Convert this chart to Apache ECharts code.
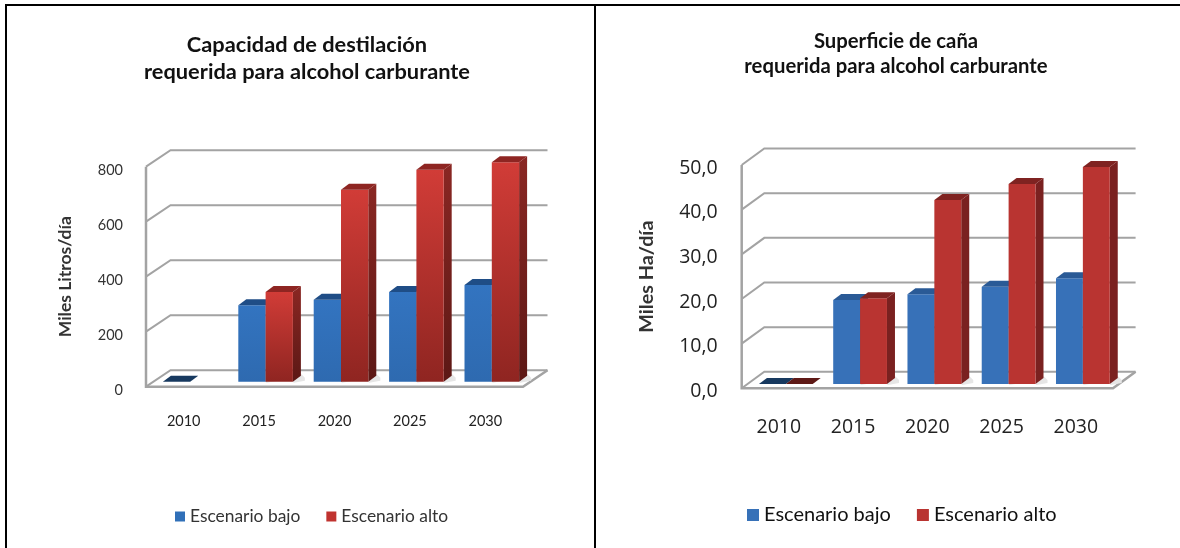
<!DOCTYPE html>
<html><head><meta charset="utf-8">
<style>html,body{margin:0;padding:0;background:#fff}#c{width:1180px;height:548px}</style>
<script src="https://cdn.jsdelivr.net/npm/echarts@6/dist/echarts.min.js"></script>
</head><body><div id="c"></div>
<script>
const years = ['2010','2015','2020','2025','2030'];
const litrosBajo = [0, 278, 298, 326, 352];
const litrosAlto = [null, 326, 698, 771, 798];
const hectareasBajo = [0, 18.8, 20.1, 21.8, 23.7];
const hectareasAlto = [0, 19.2, 41.2, 44.8, 48.6];
const litrosTicks = [0, 200, 400, 600, 800];
const hectareasTicks = [0, 10, 20, 30, 40, 50];
const BAJO = 'Escenario bajo', ALTO = 'Escenario alto';

const grad = (a, b) => new echarts.graphic.LinearGradient(0, 0, 0, 1, [{offset:0,color:a},{offset:1,color:b}]);

function wallSeries(gridIndex, ticks, dx, dy) {
  return {
    type:'custom', name:'wall'+gridIndex, xAxisIndex:gridIndex, yAxisIndex:gridIndex, silent:true, z:1, clip:false,
    data: ticks.map(t => [0, t]),
    encode:{x:0,y:1},
    renderItem(params, api) {
      const cs = params.coordSys;
      const y = api.coord([0, api.value(1)])[1];
      const l = cs.x, r = cs.x + cs.width;
      const st = {fill:'none', stroke:'#a3a3a3', lineWidth:2};
      const children = [{type:'polyline', shape:{points:[[l,y],[l+dx,y+dy],[r+dx,y+dy]]}, style:st}];
      if (api.value(1) === 0) {
        children.push({type:'polyline', shape:{points:[[l,cs.y],[l,y],[r,y],[r+dx,y+dy]]}, style:Object.assign({}, st, {lineWidth:2.5})});
      }
      return {type:'group', children};
    }
  };
}

function barSeries(name, gridIndex, values, slot, offX, offY, depthX, depthY, c) {
  return {
    type:'custom', name, xAxisIndex:gridIndex, yAxisIndex:gridIndex, z:3, clip:false,
    data: values.map((v, i) => [i, v]),
    encode:{x:0,y:1},
    renderItem(params, api) {
      const v = api.value(1);
      if (v === null || isNaN(v)) return;
      const i = api.value(0);
      const band = api.size([1, 0])[0];
      const w = band * 0.362;
      const top = api.coord([i, v]);
      const base = api.coord([i, 0]);
      const x0 = top[0] + offX + (slot === 0 ? -w : 0), x1 = x0 + w;
      const yt = top[1] + offY, yb = base[1] + offY;
      const h = yb - yt;
      const kids = [];
      if (h > 0.5) {
        kids.push({type:'polygon', shape:{points:[[x1+1,yb+1],[x1+depthX+4,yb+depthY+5],[x1+depthX+4,yb+depthY+2],[x1+depthX,yb+depthY-2],[x1,yb]]}, style:{fill:'#e6e6e6'}});
        kids.push({type:'polygon', shape:{points:[[x1,yt],[x1+depthX,yt+depthY],[x1+depthX,yb+depthY],[x1,yb]]}, style:{fill:c.side}});
        kids.push({type:'rect', shape:{x:x0,y:yt,width:w,height:h}, style:{fill:c.front}});
      }
      kids.push({type:'polygon', shape:{points:[[x0,yt],[x0+depthX,yt+depthY],[x1+depthX,yt+depthY],[x1,yt]]}, style:{fill:h > 0.5 ? c.top : c.flat}});
      return {type:'group', children:kids};
    }
  };
}

const leftBlue  = {front:grad('#3374c0','#2e6ab0'), side:'#1f4a80', top:'#1f4d86', flat:'#17395f'};
const leftRed   = {front:grad('#d13c37','#8f2521'), side:grad('#8a2723','#5c1815'), top:'#8e2522', flat:'#5e1916'};
const rightBlue = {front:'#3771b8', side:'#214c80', top:'#2a5a96', flat:'#17395f'};
const rightRed  = {front:'#b93431', side:'#7a2120', top:'#7f2321', flat:'#5e1916'};

const commonCat = {type:'category', axisLine:{show:false}, axisTick:{show:false}, splitLine:{show:false}};
const commonVal = {type:'value', axisLine:{show:false}, axisTick:{show:false}, splitLine:{show:false}, nameLocation:'middle'};

const option = {
  animation:false,
  backgroundColor:'#fff',
  title:[
    {text:'Capacidad de destilación\nrequerida para alcohol carburante', left:302, top:26, textAlign:'center',
     textStyle:{fontFamily:'Lato', fontWeight:'bold', fontSize:21.8, lineHeight:27, color:'#111'}},
    {text:'Superficie de caña\nrequerida para alcohol carburante', left:891, top:24, textAlign:'center',
     textStyle:{fontFamily:'Lato', fontWeight:'bold', fontSize:20.3, lineHeight:25, color:'#111'}}
  ],
  legend:[
    {left:175, top:508, padding:0, itemWidth:10, itemHeight:10, itemGap:26, icon:'rect', textStyle:{fontFamily:'Lato', fontSize:17.4, color:'#333'},
     data:[{name:BAJO,itemStyle:{color:'#3070b8'}},{name:ALTO,itemStyle:{color:'#c0332f'}}]},
    {left:747, top:505, padding:0, itemWidth:12, itemHeight:12, itemGap:26, icon:'rect', textStyle:{fontFamily:'Lato', fontSize:20, color:'#111'},
     data:[{name:BAJO,itemStyle:{color:'#3771b8'}},{name:ALTO,itemStyle:{color:'#b93431'}}]}
  ],
  grid:[
    {left:146, top:166.7, width:377, height:220},
    {left:741.7, top:165, width:371.3, height:223.3}
  ],
  xAxis:[
    Object.assign({}, commonCat, {gridIndex:0, data:years, axisLabel:{margin:27, fontFamily:'Lato', fontSize:14.5, color:'#222'}}),
    Object.assign({}, commonCat, {gridIndex:1, data:years, axisLabel:{margin:29, fontFamily:'Open Sans', fontSize:19.5, color:'#222'}})
  ],
  yAxis:[
    Object.assign({}, commonVal, {gridIndex:0, min:0, max:800, interval:200, name:'Miles Litros/día', nameGap:72,
      nameTextStyle:{fontFamily:'Lato', fontWeight:'bold', fontSize:17.5, color:'#333'},
      axisLabel:{margin:23, fontFamily:'Lato', fontSize:14.5, color:'#333', verticalAlign:'top', lineHeight:8}}),
    Object.assign({}, commonVal, {gridIndex:1, min:0, max:50, interval:10, name:'Miles Ha/día', nameGap:85,
      nameTextStyle:{fontFamily:'Lato', fontWeight:'bold', fontSize:19.8, color:'#333'},
      axisLabel:{margin:24, fontFamily:'Open Sans', fontSize:19.5, color:'#222', verticalAlign:'top', lineHeight:6, formatter:v => v.toFixed(1).replace('.', ',')}})
  ],
  series:[
    wallSeries(0, litrosTicks, 24.5, -16.5),
    wallSeries(1, hectareasTicks, 22.6, -16.5),
    barSeries(BAJO, 0, litrosBajo, 0, 6.5, -5, 8, -6, leftBlue),
    barSeries(ALTO, 0, litrosAlto, 1, 6.5, -5, 8, -6, leftRed),
    barSeries(BAJO, 1, hectareasBajo, 0, 7, -4.3, 8, -6, rightBlue),
    barSeries(ALTO, 1, hectareasAlto, 1, 7, -4.3, 8, -6, rightRed)
  ],
  graphic:[
    {type:'rect', shape:{x:5,y:4,width:1175,height:2}, style:{fill:'#000'}, silent:true},
    {type:'rect', shape:{x:5,y:4,width:2,height:544}, style:{fill:'#000'}, silent:true},
    {type:'rect', shape:{x:594,y:4,width:2,height:544}, style:{fill:'#000'}, silent:true}
  ]
};
const chart = echarts.init(document.getElementById('c'), null, {renderer:'canvas', width:1180, height:548});
chart.setOption(option);
</script></body></html>
